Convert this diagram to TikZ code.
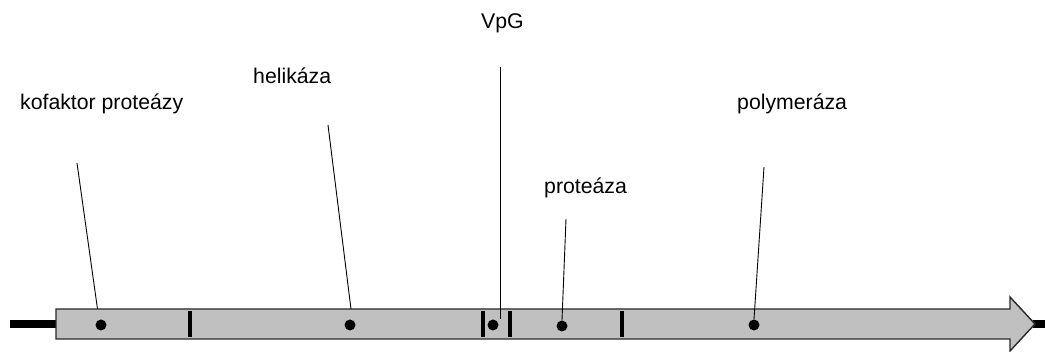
\documentclass[tikz,border=0pt]{standalone}
\usepackage{fontspec}
\setmainfont{Liberation Sans}
\begin{document}
\begin{tikzpicture}[x=1pt,y=-1pt,
  lbl/.style={anchor=base west,inner sep=0pt,font=\fontsize{21.25}{24}\selectfont},
  dot/.style={circle,fill=black,inner sep=0pt,minimum size=11pt},
  tick/.style={line width=4pt,black},
  conn/.style={line width=0.9pt,black},
  stub/.style={line width=8pt,black}]
\useasboundingbox (0,0) rectangle (1045,352);
% backbone stubs
\coordinate (L0) at (10,324);
\coordinate (L1) at (57,324);
\coordinate (R0) at (1033,324);
\coordinate (R1) at (1045,324);
\draw[stub] (L0) -- (L1);
\draw[stub] (R0) -- (R1);
% arrow body
\draw[fill={rgb,255:red,192;green,192;blue,192},draw={rgb,255:red,40;green,40;blue,40},line width=1.4pt,line join=miter]
  (56,309) -- (1010,309) -- (1010,297) -- (1035,324) -- (1010,351) -- (1010,339) -- (56,339) -- cycle;
% ticks
\foreach \x in {190,483,510,622} \draw[tick] (\x,311) -- (\x,337);
% dots
\node[dot] (d1) at (101,325) {};
\node[dot] (d2) at (350,325) {};
\node[dot] (d3) at (493,325) {};
\node[dot] (d4) at (562,326) {};
\node[dot] (d5) at (754,325) {};
% labels
\node[lbl] (t1) at (20,110) {kofaktor proteázy};
\node[lbl] (t2) at (253,84) {helikáza};
\node[lbl] (t3) at (481,29) {VpG};
\node[lbl] (t4) at (544,194) {proteáza};
\node[lbl] (t5) at (737,110) {polymeráza};
% connector ends
\coordinate (c1) at (77,163);
\coordinate (e1) at (97.5,309);
\coordinate (c2) at (328,125);
\coordinate (e2) at (351,309);
\coordinate (c3) at (500,67);
\coordinate (c4) at (566,219);
\coordinate (c5) at (764,167);
\draw[conn] (c1) -- (e1);
\draw[conn] (c2) -- (e2);
\draw[conn] (c3) -- (d3.north -| c3);
\draw[conn] (c4) -- (d4.north);
\draw[conn] (c5) -- (d5.north);
\end{tikzpicture}
\end{document}
